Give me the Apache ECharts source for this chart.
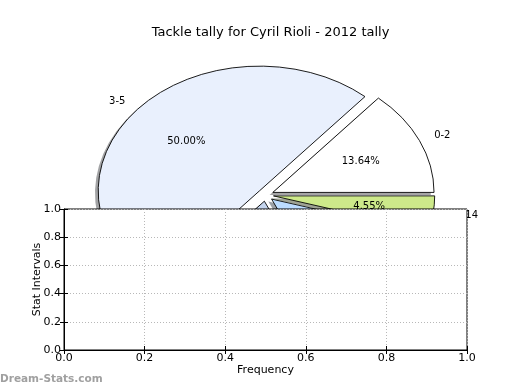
<!DOCTYPE html>
<html>
<head>
<meta charset="utf-8">
<script src="https://cdn.jsdelivr.net/npm/echarts@6/dist/echarts.min.js"></script>
<style>html,body{margin:0;padding:0;background:#fff}#c{width:520px;height:390px}</style>
</head>
<body>
<div id="c"></div>
<script>
// ---- data ----
const categories = ['0-2', '3-5', '6-8', '9-11', '12-14'];
const counts = [3, 11, 4, 3, 1];
const sliceColors = ['#ffffff', '#e9f0fd', '#c5d5ee', '#bcdcff', '#cde98a'];
const axisTicks = [0, 0.2, 0.4, 0.6, 0.8, 1.0];
const titleText = 'Tackle tally for Cyril Rioli - 2012 tally';

// ---- layout ----
const FONT = '"DejaVu Sans", sans-serif';
const CX = 265.5, CY = 195, RX = 161.2, RY = 124.8;
const EXPLODE = 0.05, LABEL_D = 1.1, PCT_D = 0.6;
const SH_DX = -0.02 * RX, SH_DY = 0.02 * RY;
const total = counts.reduce((a, b) => a + b, 0);

function shadowOf(hex) {
  const n = parseInt(hex.slice(1), 16);
  const r = Math.round(((n >> 16) & 255) * 0.3), g = Math.round(((n >> 8) & 255) * 0.3), b = Math.round((n & 255) * 0.3);
  return 'rgba(' + r + ',' + g + ',' + b + ',0.5)';
}

function renderItem(params, api) {
  const i = params.dataIndex;
  const v = api.value(1);
  let before = 0;
  for (let k = 0; k < i; k++) before += counts[k];
  const t1 = before / total * Math.PI * 2;
  const t2 = (before + v) / total * Math.PI * 2;
  const tm = (t1 + t2) / 2;
  const c = Math.cos(tm), s = Math.sin(tm);
  const ox = CX + EXPLODE * RX * c, oy = CY - EXPLODE * RY * s;
  const shape = { cx: 0, cy: 0, r0: 0, r: RX, startAngle: -t1, endAngle: -t2, clockwise: false };
  const sy = RY / RX;
  return {
    type: 'group',
    children: [
      { type: 'sector', x: ox + SH_DX, y: oy + SH_DY, scaleY: sy, shape: shape,
        style: { fill: shadowOf(sliceColors[i]), stroke: null } },
      { type: 'sector', x: ox, y: oy, scaleY: sy, shape: shape,
        style: { fill: sliceColors[i], stroke: '#000', lineWidth: 1 } },
      { type: 'text', x: ox + LABEL_D * RX * c, y: oy - LABEL_D * RY * s,
        style: { text: categories[i], fill: '#000', font: '10px ' + FONT,
                 align: c >= 0 ? 'left' : 'right', verticalAlign: 'middle' } },
      { type: 'text', x: ox + PCT_D * RX * c, y: oy - PCT_D * RY * s,
        style: { text: (v / total * 100).toFixed(2) + '%', fill: '#000', font: '10px ' + FONT,
                 align: 'center', verticalAlign: 'middle' } }
    ]
  };
}

const chart = echarts.init(document.getElementById('c'), null, { renderer: 'canvas' });
const valAxisCommon = {
  type: 'value', min: 0, max: 1, interval: 0.2,
  axisLine: { show: true, lineStyle: { color: '#000', width: 1 } },
  axisTick: { show: true, inside: true, length: 4, lineStyle: { color: '#000' } },
  splitLine: { show: true, lineStyle: { color: '#b8b8b8', type: [1, 2], width: 1 } },
  zlevel: 1
};
chart.setOption({
  animation: false,
  backgroundColor: '#fff',
  title: {
    text: titleText, left: 265.5, textAlign: 'center', top: 21,
    textStyle: { fontFamily: FONT, fontSize: 13, fontWeight: 'normal', color: '#000' }
  },
  graphic: [{
    type: 'text', left: 0, top: 374,
    style: { text: 'Dream-Stats.com', fill: '#a0a0a0', font: 'bold 10.5px ' + FONT }
  }],
  grid: {
    left: 64, right: 53, top: 209, bottom: 40, show: true,
    backgroundColor: '#fff', borderColor: '#000', borderWidth: 1, zlevel: 1
  },
  xAxis: [
    Object.assign({}, valAxisCommon, {
      position: 'bottom', name: 'Frequency', nameLocation: 'middle', nameGap: 15, nameMoveOverlap: false,
      nameTextStyle: { fontFamily: FONT, fontSize: 11, color: '#000' },
      axisLabel: { margin: 3, fontFamily: FONT, fontSize: 11, color: '#000', formatter: v => v.toFixed(1) }
    }),
    Object.assign({}, valAxisCommon, {
      position: 'top', axisLabel: { show: false }, splitLine: { show: false }, axisLine: { show: false }
    })
  ],
  yAxis: [
    Object.assign({}, valAxisCommon, {
      position: 'left', name: 'Stat Intervals', nameLocation: 'middle', nameGap: 21, nameMoveOverlap: false,
      nameTextStyle: { fontFamily: FONT, fontSize: 11, color: '#000' },
      axisLabel: { margin: 3, fontFamily: FONT, fontSize: 11, color: '#000', formatter: v => v.toFixed(1) }
    }),
    Object.assign({}, valAxisCommon, {
      position: 'right', axisLabel: { show: false }, splitLine: { show: false }, axisLine: { show: false }
    })
  ],
  series: [{
    type: 'custom',
    coordinateSystem: 'none',
    zlevel: 0,
    silent: true,
    renderItem: renderItem,
    data: counts.map((v, i) => [i, v])
  }]
});
</script>
</body>
</html>
